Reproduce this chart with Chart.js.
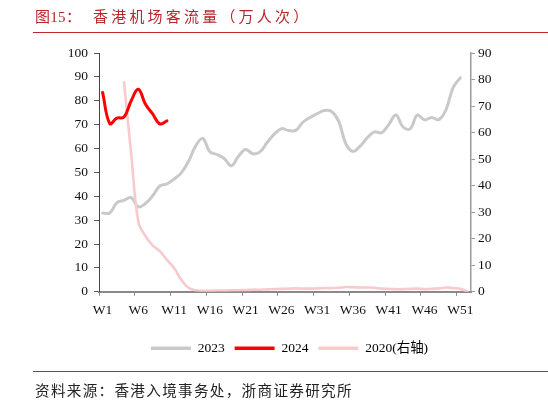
<!DOCTYPE html>
<html>
<head>
<meta charset="utf-8">
<script src="https://cdn.jsdelivr.net/npm/chart.js@4.4.1/dist/chart.umd.min.js"></script>
<style>
  html, body { margin: 0; padding: 0; background: #fff; }
  #wrap { position: relative; width: 548px; height: 402px; overflow: hidden; }
  #c { position: absolute; left: 0; top: 0; }
  .title { position: absolute; top: 5px; font-family: "Liberation Serif", "Noto Sans CJK SC", serif; font-size: 15px; color: #b8262c; white-space: nowrap; letter-spacing: 3.2px; }
  .rule { position: absolute; left: 33px; width: 515px; height: 1px; background: #c0262d; }
  .source { position: absolute; left: 35px; top: 379px; font-family: "Liberation Serif", "Noto Sans CJK SC", serif; font-size: 14.6px; color: #222; white-space: nowrap; letter-spacing: 1.3px; }
</style>
</head>
<body>
<div id="wrap">
  <canvas id="c" width="548" height="402"></canvas>
  <div class="title" style="left:35px; letter-spacing:0.3px">图15：</div>
  <div class="title" style="left:93px">香港机场客流量（万人次）</div>
  <div class="rule" style="top:32px"></div>
  <div class="rule" style="top:371px"></div>
  <div class="source">资料来源：香港入境事务处，浙商证券研究所</div>
</div>
<script>
const weeks = Array.from({length: 52}, (_, i) => 'W' + (i + 1));

const series2023 = [33, 33, 37.3, 38.3, 39.4, 35.6, 37, 40.2, 44.3, 45.2,
  47.2, 49.8, 54.5, 61, 64.2, 58.6, 57.5, 55.8, 52.8, 56.8,
  59.6, 57.8, 58.6, 62.5, 66, 68.3, 67.5, 67.6, 71, 73,
  74.6, 75.9, 75.5, 71.5, 62, 58.8, 61, 64.5, 67, 66.6,
  70, 74, 69, 68.3, 74, 72, 73, 72.1, 76.2, 85.5, 89.6];

const series2024 = [83.5, 70.5, 72.7, 73.2, 80, 84.8, 78.5, 74.5, 70.3, 71.6];

const series2020 = [null, null, null, 79, 52, 26.4, 21, 17.5, 15.3, 12,
  9, 4.5, 1.5, 0.6, 0.4, 0.4, 0.5, 0.5, 0.6, 0.6,
  0.7, 0.8, 0.8, 0.9, 1.0, 1.1, 1.2, 1.3, 1.2, 1.2,
  1.3, 1.4, 1.4, 1.5, 1.8, 1.7, 1.6, 1.6, 1.5, 1.2,
  1.1, 1.0, 1.0, 1.1, 1.2, 1.0, 1.1, 1.3, 1.6, 1.4, 1.1, 0.1];

const leftTicks = [0, 100, 10];   // min, max, step
const rightTicks = [0, 90, 10];

const FONT = '"Liberation Serif", "Noto Sans CJK SC", serif';

new Chart(document.getElementById('c'), {
  type: 'line',
  data: {
    labels: weeks,
    datasets: [
      { label: '2023', data: series2023, borderColor: '#c9c9c9', backgroundColor: '#c9c9c9',
        borderWidth: 3, yAxisID: 'y', order: 3 },
      { label: '2024', data: series2024, borderColor: '#ff0000', backgroundColor: '#ff0000',
        borderWidth: 3, yAxisID: 'y', order: 1 },
      { label: '2020(右轴)', data: series2020, borderColor: '#f8c9cd', backgroundColor: '#f8c9cd',
        borderWidth: 2.6, yAxisID: 'y1', order: 2 }
    ]
  },
  options: {
    responsive: false,
    animation: false,
    devicePixelRatio: 1,
    elements: { point: { radius: 0, hoverRadius: 0 }, line: { tension: 0.4, borderCapStyle: 'round', borderJoinStyle: 'round' } },
    layout: { padding: { left: 31, right: 0, top: 53, bottom: 37 } },
    plugins: {
      tooltip: { enabled: false },
      legend: {
        position: 'bottom',
        labels: {
          boxWidth: 40, boxHeight: 3.5, padding: 10,
          color: '#111',
          font: { family: FONT, size: 13.5 },
          generateLabels(chart) {
            return chart.data.datasets.map((ds, i) => ({
              text: ds.label, fillStyle: ds.borderColor, strokeStyle: ds.borderColor,
              lineWidth: 0, datasetIndex: i, hidden: false
            }));
          }
        }
      }
    },
    scales: {
      x: {
        type: 'category',
        offset: true,
        grid: {
          offset: true, drawOnChartArea: false, drawTicks: true, tickLength: 4,
          color: (ctx) => (ctx.index !== undefined && ctx.index % 5 === 0) ? '#888' : 'rgba(0,0,0,0)',
          lineWidth: 1
        },
        border: { display: true, color: '#8a8a8a', width: 2 },
        ticks: {
          autoSkip: false, maxRotation: 0, minRotation: 0, padding: 7,
          color: '#111', font: { family: FONT, size: 13.5 },
          callback: function (value, index) { return index % 5 === 0 ? this.getLabelForValue(value) : ''; }
        },
        afterFit(scale) { scale.height = 39.7; }
      },
      y: {
        position: 'left',
        min: leftTicks[0], max: leftTicks[1],
        ticks: { stepSize: leftTicks[2], padding: 6, color: '#111', font: { family: FONT, size: 13.5 } },
        grid: { drawOnChartArea: false, drawTicks: true, tickLength: 5, color: '#555' },
        border: { display: true, color: '#444', width: 1 },
        afterFit(scale) { scale.width = 68; }
      },
      y1: {
        position: 'right',
        min: rightTicks[0], max: rightTicks[1],
        ticks: { stepSize: rightTicks[2], padding: 3, color: '#111', font: { family: FONT, size: 13.5 } },
        grid: { drawOnChartArea: false, drawTicks: true, tickLength: 4, color: '#999' },
        border: { display: true, color: '#9a9a9a', width: 1.5 },
        afterFit(scale) { scale.width = 77; }
      }
    }
  }
});
</script>
</body>
</html>
